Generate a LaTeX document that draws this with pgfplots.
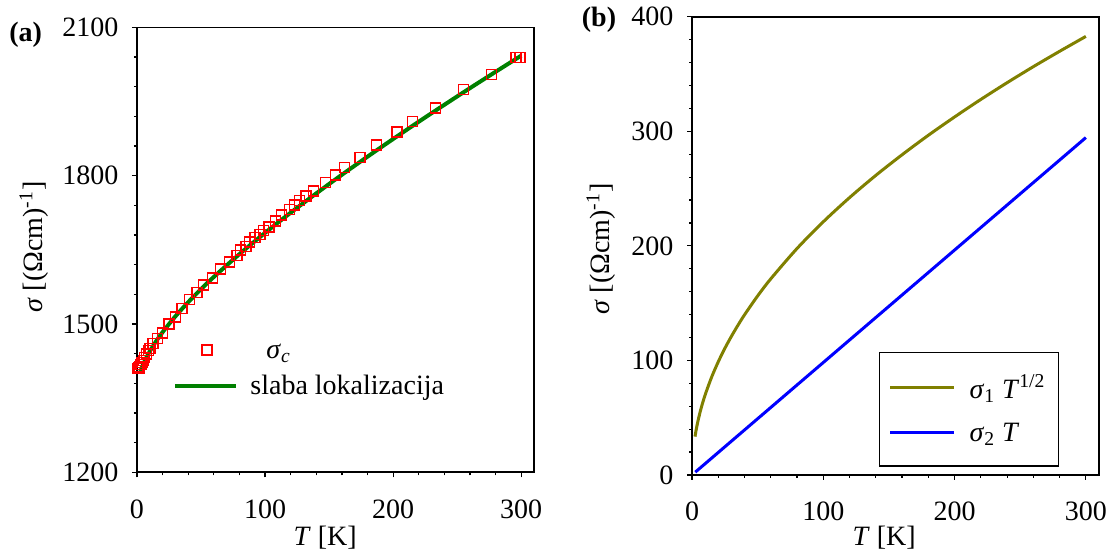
\documentclass[border=0pt]{standalone}
\usepackage{fontspec}
\setmainfont{Liberation Serif}
\usepackage{pgfplots}
\pgfplotsset{compat=1.18}
\definecolor{cred}{RGB}{255,0,0}
\definecolor{cgreen}{RGB}{0,128,0}
\definecolor{colive}{RGB}{128,128,0}
\definecolor{cblue}{RGB}{0,0,255}
\newcommand{\fs}{\fontsize{14}{16.8}\selectfont}
\newcommand{\st}{\rule[-3pt]{0pt}{13pt}}
\pgfplotsset{
  markleg/.style={legend image code/.code={\path[draw=none,fill=none] (0pt,-1pt) rectangle (30.5pt,1pt); \path[draw=cred, line width=0.7pt] plot[only marks, mark=square, mark size=2.5pt] coordinates {(15.75pt,0pt)};}},
  lineleg/.style={legend image code/.code={\draw[##1] (0pt,0pt) -- (#1,0pt);}},
  panel/.style={
    scale only axis, anchor=south west,
    xmin=0, xmax=310,
    xtick={0,100,200,300}, minor x tick num=4,
    tick align=outside, xtick pos=left, ytick pos=left,
    major tick length=2.5pt, minor tick length=1.5pt,
    axis line style={line width=0.8pt},
    tick style={black, line width=0.6pt},
    font=\fs,
    tick label style={font=\fs},
    /pgf/number format/assume math mode=true,
    /pgf/number format/1000 sep={},
    xticklabel style={anchor=base, yshift=-20.5pt},
    yticklabel style={xshift=-3.3pt},
    label style={font=\fs},
    legend cell align=left,
    clip=false,
  }}
\begin{document}
\begin{tikzpicture}
\path[use as bounding box] (0,0) rectangle (557.5pt,278pt);
\begin{axis}[panel, at={(68.5pt,41.85pt)}, width=198.5pt, height=222.5pt,
  ymin=1200, ymax=2100, ytick={1200,1500,1800,2100}, minor y tick num=4,
  xlabel={\textit{T} [K]}, ylabel={\textit{σ} [(Ωcm)\textsuperscript{-1}]},
  xlabel style={at={(axis description cs:0.474,-0.1476)}, anchor=center},
  ylabel style={at={(axis description cs:-0.2594,0.506)}, anchor=center},
  legend style={draw=none, fill=none, inner sep=0pt, at={(0.0907,0.3108)}, anchor=north west,
    row sep=2.5pt, column sep=4pt, nodes={inner sep=2pt}, font=\fs},
]
\addplot[only marks, mark=square, mark size=2.5pt, color=cred, line width=0.7pt, markleg]
coordinates {
(0.5,1410) (1,1412) (1.5,1411) (2,1414) (3,1418) (4,1422) (5,1426) (6,1432) (7.5,1439) (9,1446)
(10,1450) (12.5,1461) (16,1471) (20,1482) (25,1500) (30,1514) (35,1531) (41,1550) (47,1564) (52,1579)
(59,1593) (65,1611) (72,1625) (78,1639) (81,1650) (85,1657) (88,1666) (92,1675) (96,1681) (99,1689)
(103,1696) (108,1708) (113,1720) (119,1732) (123,1741) (127,1750) (132,1759) (138,1769) (147,1786) (155,1801)
(162,1816) (174,1837) (187,1862) (203,1888) (215,1909) (233,1937) (255,1974) (277,2005) (296,2039) (299,2039)
};
\addlegendentry{\st\hspace{8pt}\textit{σ}\textsubscript{\textit{c}}}
\addplot[smooth, color=cgreen, line width=2pt, lineleg=30.5pt]
coordinates {
(2.2,1400.0) (3,1406.2) (5,1419.3) (7,1430.3) (10,1444.7) (15,1465.3) (20,1483.5) (30,1515.5) (40,1544.1)
(50,1570.5) (60,1595.2) (80,1641.3) (100,1684.3) (120,1725.1) (140,1764.1) (160,1801.8)
(180,1838.4) (200,1874.1) (220,1909.1) (240,1943.3) (260,1977.0) (280,2010.0) (300,2042.7)
};
\addlegendentry{\st slaba lokalizacija}
\end{axis}

\begin{axis}[panel, at={(346pt,40.5pt)}, width=203.5pt, height=229.15pt,
  ymin=0, ymax=400, ytick={0,100,200,300,400}, minor y tick num=4,
  xlabel={\textit{T} [K]}, ylabel={\textit{σ} [(Ωcm)\textsuperscript{-1}]},
  xlabel style={at={(axis description cs:0.472,-0.1375)}, anchor=center},
  ylabel style={at={(axis description cs:-0.2236,0.493)}, anchor=center},
  legend style={draw=black, line width=0.6pt, fill=white, inner xsep=4.5pt, inner ysep=9pt,
    at={(0.4595,0.2684)}, anchor=north west,
    row sep=6pt, column sep=5pt, nodes={inner sep=2pt}, font=\fs},
]
\addplot[smooth, color=colive, line width=1.5pt, lineleg=32pt]
coordinates {
(2.3,33.5) (3,38.3) (4,44.2) (5,49.4) (7,58.5) (10,69.9) (15,85.6) (20,98.8) (25,110.5) (30,121.0)
(35,130.7) (40,139.8) (50,156.3) (60,171.2) (80,197.7) (100,221.0) (120,242.1) (140,261.5)
(160,279.5) (180,296.5) (200,312.5) (220,327.8) (240,342.4) (260,356.4) (280,369.8) (300,382.8)
};
\addlegendentry{\st\textit{σ}\textsubscript{1} \textit{T}\textsuperscript{1/2}}
\addplot[color=cblue, line width=1.5pt, lineleg=32pt]
coordinates {(2.5,2.5) (300,294.5)};
\addlegendentry{\st\textit{σ}\textsubscript{2} \textit{T}}
\end{axis}
\node[font=\bfseries\fs] at (12.8pt,260.5pt) {(a)};
\node[font=\bfseries\fs] at (299.5pt,268pt) {(b)};
\end{tikzpicture}
\end{document}
